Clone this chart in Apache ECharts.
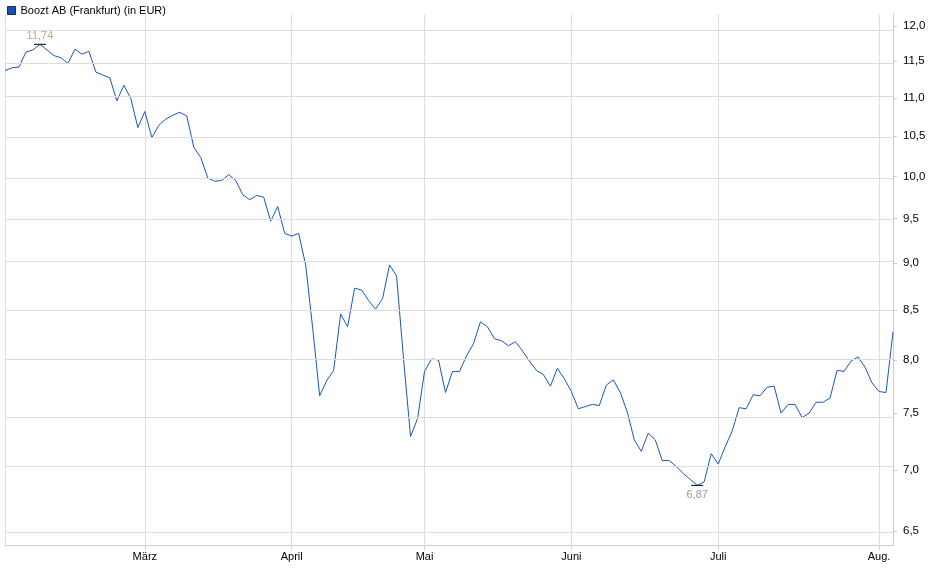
<!DOCTYPE html>
<html><head><meta charset="utf-8">
<script src="https://cdn.jsdelivr.net/npm/echarts@6/dist/echarts.min.js"></script>
<style>html,body{margin:0;padding:0;background:#fff}#c{width:940px;height:579px}</style>
</head><body><div id="c"></div>
<script>
const prices = [11.37,11.41,11.42,11.63,11.66,11.74,11.66,11.58,11.55,11.47,11.67,11.60,11.64,11.35,11.31,11.27,10.96,11.17,10.99,10.61,10.82,10.48,10.64,10.72,10.77,10.81,10.76,10.36,10.23,9.98,9.94,9.95,10.02,9.95,9.78,9.72,9.77,9.75,9.47,9.64,9.33,9.30,9.33,8.98,8.32,7.66,7.80,7.90,8.46,8.33,8.73,8.71,8.60,8.51,8.62,8.98,8.86,8.01,7.29,7.45,7.89,8.01,8.00,7.69,7.89,7.89,8.04,8.16,8.38,8.33,8.21,8.19,8.14,8.18,8.09,7.99,7.90,7.86,7.75,7.92,7.82,7.70,7.54,7.56,7.58,7.57,7.76,7.81,7.69,7.51,7.26,7.16,7.32,7.26,7.08,7.08,7.03,6.97,6.92,6.87,6.90,7.14,7.05,7.20,7.34,7.55,7.54,7.67,7.66,7.74,7.75,7.50,7.58,7.58,7.46,7.50,7.60,7.60,7.64,7.90,7.89,7.99,8.03,7.93,7.78,7.70,7.69,8.28];
const monthLabels = {20:'März',41:'April',60:'Mai',81:'Juni',102:'Juli',125:'Aug.'};
const yTicks = [6.5,7.0,7.5,8.0,8.5,9.0,9.5,10.0,10.5,11.0,11.5,12.0];
const maxIdx = 5, minIdx = 99;

const cats = prices.map((_, i) => String(i));
const logData = prices.map(v => Math.log(v));
const isMonth = i => monthLabels[i] !== undefined;
const chart = echarts.init(document.getElementById('c'));
chart.setOption({
  animation: false,
  legend: {left: 2, top: 0, itemWidth: 8, itemHeight: 8, itemGap: 4, icon: 'rect',
    textStyle: {fontFamily: 'Arial, Liberation Sans', fontSize: 11, color: '#000'},
    data: [{name: 'Boozt AB (Frankfurt) (in EUR)', itemStyle: {color: '#1a4fae', borderColor: '#0b2a66', borderWidth: 1}}]},
  grid: {left: 5, right: 47, top: 14, bottom: 34},
  xAxis: {type: 'category', data: cats, boundaryGap: false,
    axisLine: {show: true, lineStyle: {color: '#ccc'}},
    axisTick: {show: true, interval: i => isMonth(i), length: 5, lineStyle: {color: '#ccc'}},
    axisLabel: {interval: i => isMonth(i), formatter: (v, i) => monthLabels[i] || '',
      fontFamily: 'Arial, Liberation Sans', fontSize: 11, color: '#000', margin: 6},
    splitLine: {show: true, interval: i => isMonth(i) || i === 0, lineStyle: {color: '#ddd'}}},
  yAxis: {type: 'value', position: 'right', min: Math.log(6.39), max: Math.log(12.18),
    axisLine: {show: true, lineStyle: {color: '#ccc'}},
    axisTick: {show: true, customValues: yTicks.map(Math.log), length: 4, lineStyle: {color: '#ccc'}},
    axisLabel: {customValues: yTicks.map(Math.log), formatter: v => Math.exp(v).toFixed(1).replace('.', ','),
      fontFamily: 'Arial, Liberation Sans', fontSize: 11.5, color: '#000', margin: 10},
    splitLine: {show: false}},
  series: [{name: 'Boozt AB (Frankfurt) (in EUR)', type: 'line', data: logData, symbol: 'none',
    lineStyle: {color: '#1a56b8', width: 1}, itemStyle: {color: '#1a4fae'},
    markLine: {silent: true, symbol: 'none', label: {show: false}, lineStyle: {color: '#ddd', type: 'solid', width: 1},
      data: yTicks.map(t => ({yAxis: Math.log(t)}))},
    markPoint: {symbol: 'rect', symbolSize: [12, 1], itemStyle: {color: '#000'},
      data: [
        {coord: [maxIdx, logData[maxIdx]], label: {show: true, position: 'top', distance: 2, formatter: prices[maxIdx].toFixed(2).replace('.', ','), color: '#c9a878', fontSize: 11, fontFamily: 'Arial, Liberation Sans'}},
        {coord: [minIdx, logData[minIdx]], label: {show: true, position: 'bottom', distance: 4, formatter: prices[minIdx].toFixed(2).replace('.', ','), color: '#999', fontSize: 11, fontFamily: 'Arial, Liberation Sans'}}
      ]}}]
});
</script></body></html>
